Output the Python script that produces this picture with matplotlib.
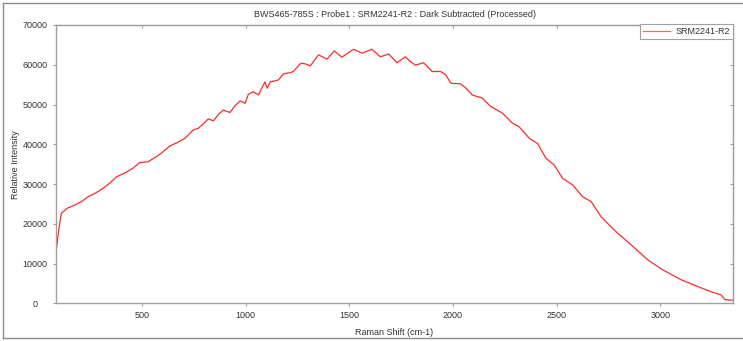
import matplotlib
matplotlib.use("Agg")
import matplotlib.pyplot as plt
from matplotlib.lines import Line2D

# values
shift = [86, 100, 112, 140, 177, 210, 241, 280, 313, 345, 378, 420, 458, 490,
         530, 571, 600, 636, 670, 708, 748, 772, 800, 821, 845, 870, 893, 925,
         950, 974, 998, 1014, 1038, 1062, 1094, 1105, 1119, 1140, 1159, 1183,
         1215, 1231, 1250, 1267, 1290, 1312, 1352, 1393, 1428, 1465, 1492, 1521,
         1562, 1610, 1650, 1690, 1731, 1771, 1795, 1819, 1859, 1900, 1940, 1965,
         1988, 1997, 2037, 2065, 2093, 2142, 2182, 2210, 2239, 2287, 2319, 2368,
         2408, 2448, 2488, 2529, 2577, 2625, 2666, 2714, 2778, 2859, 2940, 3012,
         3101, 3181, 3245, 3293, 3310, 3330, 3350]
intensity = [12800, 18500, 22600, 23900, 24700, 25600, 26800, 27800, 28900,
             30200, 31800, 32800, 34000, 35400, 35600, 36900, 38000, 39600,
             40400, 41500, 43600, 44000, 45300, 46400, 45900, 47500, 48600,
             48000, 49700, 50900, 50300, 52600, 53200, 52400, 55700, 54100,
             55700, 55900, 56200, 57700, 58000, 58300, 59400, 60400, 60200,
             59700, 62500, 61400, 63500, 61900, 62900, 63900, 62900, 63900,
             62000, 62700, 60500, 62000, 60800, 59900, 60500, 58300, 58300,
             57500, 55500, 55300, 55200, 54000, 52400, 51600, 49500, 48700,
             47800, 45300, 44400, 41500, 40200, 36500, 34800, 31400, 29800,
             26800, 25600, 21800, 18400, 14700, 10900, 8400, 5900, 4200, 2900,
             2100, 1000, 800, 800]

title = "BWS465-785S : Probe1 : SRM2241-R2 : Dark Subtracted (Processed)"
series_name = "SRM2241-R2"

plt.rcParams["font.family"] = ["Liberation Sans", "DejaVu Sans"]
text_col = "#333333"
axis_col = "#a0a0a0"

fig = plt.figure(figsize=(7.43, 3.41), dpi=100)
ax = fig.add_axes([56 / 743, 1 - 303.3 / 341, 677 / 743, 278.3 / 341])

ax.plot(shift, intensity, color="#ff2a2a", linewidth=0.9, label=series_name)

ax.set_xlim(86.5, 3350)
ax.set_ylim(0, 70000)
ax.set_xticks([500, 1000, 1500, 2000, 2500, 3000])
ax.set_yticks(range(0, 70001, 10000))

for side in ax.spines.values():
    side.set_color(axis_col)
    side.set_linewidth(1.0)

ax.tick_params(axis="x", direction="out", length=2.5, width=0.8, color=axis_col,
               labelsize=6.5, labelcolor=text_col, pad=3)
ax.tick_params(axis="y", direction="out", length=2, width=0.8, color=axis_col,
               labelsize=6.5, labelcolor=text_col, pad=13)
for lbl in ax.get_yticklabels():
    lbl.set_horizontalalignment("center")

top = ax.secondary_xaxis("top")
top.set_xticks([500, 1000, 1500, 2000, 2500, 3000])
top.tick_params(direction="in", length=2.5, width=0.8, color=axis_col, labeltop=False)
top.spines["top"].set_color(axis_col)
right = ax.secondary_yaxis("right")
right.set_yticks(range(0, 70001, 10000))
right.tick_params(direction="in", length=2.5, width=0.8, color=axis_col, labelright=False)
right.spines["right"].set_color(axis_col)

ax.set_title(title, fontsize=6.5, color=text_col, pad=6)
ax.set_xlabel("Raman Shift (cm-1)", fontsize=6.5, color=text_col, labelpad=6)
ax.set_ylabel("Relative Intensity", fontsize=6.5, color=text_col, labelpad=2)

leg = ax.legend(loc="upper right", bbox_to_anchor=(1.0, 1.005), fontsize=6.5,
                frameon=True, fancybox=False, framealpha=1, edgecolor=axis_col,
                borderpad=0.35, handlelength=3.0, handletextpad=0.6,
                borderaxespad=0)
leg.get_frame().set_linewidth(0.8)
leg.get_lines()[0].set_color("#ff6060")
for t in leg.get_texts():
    t.set_color(text_col)

# outer frame of the screenshot
frame_col = "#8c8c8c"
fig.add_artist(Line2D([3 / 743, 3 / 743], [3 / 341, 1 - 3 / 341], color=frame_col, lw=1.0))
fig.add_artist(Line2D([3 / 743, 1], [1 - 3 / 341, 1 - 3 / 341], color=frame_col, lw=1.0))
fig.add_artist(Line2D([3 / 743, 1], [3 / 341, 3 / 341], color=frame_col, lw=1.0))

fig.savefig("out.png", dpi=100)
